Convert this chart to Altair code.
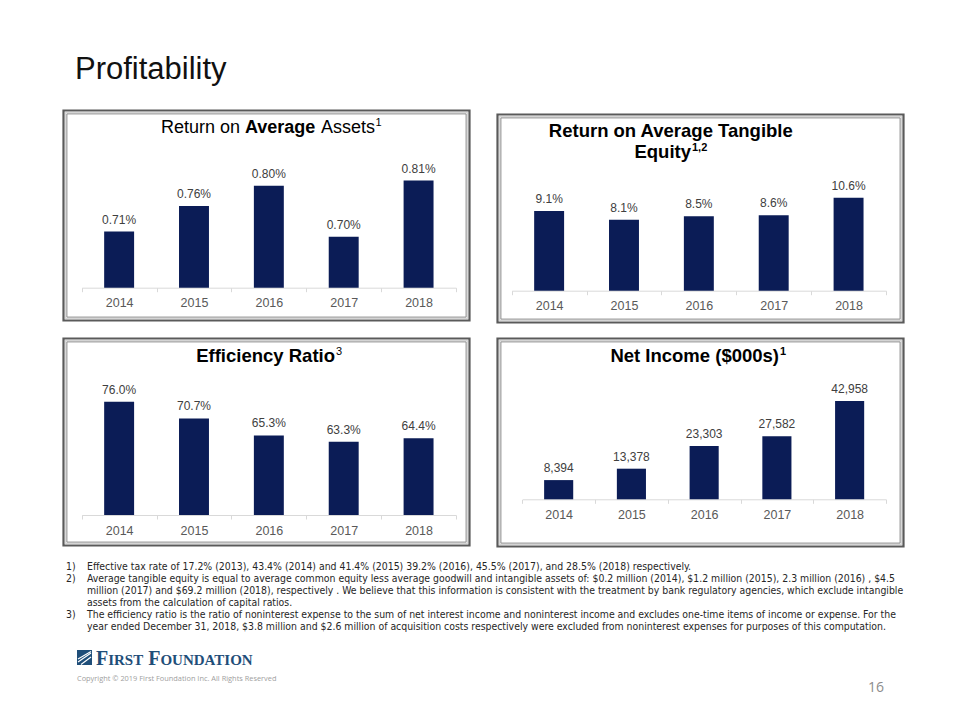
import altair as alt
import pandas as pd

# ---------------- data ----------------
years = ["2014", "2015", "2016", "2017", "2018"]
roaa = [0.71, 0.76, 0.80, 0.70, 0.81]
roate = [9.1, 8.1, 8.5, 8.6, 10.6]
efficiency = [76.0, 70.7, 65.3, 63.3, 64.4]
net_income = [8394, 13378, 23303, 27582, 42958]

footnote_nums = ["1)", "2)", "", "", "3)", ""]
footnote_lines = [
    "Effective tax rate of 17.2% (2013), 43.4% (2014) and 41.4% (2015) 39.2% (2016), 45.5% (2017), and 28.5% (2018) respectively.",
    "Average tangible equity is equal to average common equity less average goodwill and intangible assets of: $0.2 million (2014), $1.2 million (2015), 2.3 million (2016) , $4.5",
    "million  (2017) and $69.2 million (2018), respectively . We believe that this information is consistent with the treatment by bank regulatory agencies, which exclude intangible",
    "assets from the calculation of capital ratios.",
    "The efficiency ratio is the ratio of noninterest expense to the sum of net interest income and noninterest income and excludes one-time items of income or expense. For the",
    "year ended December 31, 2018, $3.8 million  and $2.6 million  of acquisition costs respectively were excluded from noninterest expenses for purposes of this computation.",
]

NAVY = "#0B1C56"
FONT = "Liberation Sans"
NARROW = "Liberation Sans Narrow, Arial Narrow, DejaVu Sans Condensed, sans-serif"
W, H = 960, 720
one = pd.DataFrame({"k": [0]})


def txt(s, x, y, size, weight="normal", color="#000000", align="left", font=FONT):
    return alt.Chart(one).mark_text(
        text=s, fontSize=size, fontWeight=weight, color=color, align=align,
        font=font, baseline="alphabetic"
    ).encode(x=alt.value(x), y=alt.value(y))


def frame(x0, y0, x1, y1):
    out = []
    for inset, col, sw in [(0, "#5a5a5a", 2.2), (2.2, "#d4d4d4", 1.2), (3.4, "#8c8c8c", 1)]:
        out.append(
            alt.Chart(one).mark_rect(fillOpacity=0, stroke=col, strokeWidth=sw).encode(
                x=alt.value(x0 + inset), x2=alt.value(x1 - inset),
                y=alt.value(y0 + inset), y2=alt.value(y1 - inset)
            )
        )
    return out


def panel(values, fmt, suffix, domain, xrange, baseline, px_per_unit):
    df = pd.DataFrame({"year": years, "v": values})
    top = baseline - (domain[1] - domain[0]) * px_per_unit
    xs = alt.Scale(domain=years, range=list(xrange), paddingInner=0, paddingOuter=0)
    ys = alt.Scale(domain=list(domain), range=[baseline, top], zero=False, nice=False)
    base = alt.Chart(df)
    bars = base.mark_bar(color=NAVY, width=alt.RelativeBandSize(0.4)).encode(
        x=alt.X(
            "year:N", scale=xs,
            axis=alt.Axis(
                orient="bottom", offset=baseline - H, title=None, grid=False,
                labelAngle=0, domainColor="#d9d9d9", tickColor="#d9d9d9",
                tickSize=4, tickBand="extent", labelColor="#595959",
                labelFont=FONT, labelFontSize=12.5, labelPadding=5,
            ),
        ),
        y=alt.Y("v:Q", scale=ys, axis=None),
        y2=alt.datum(domain[0]),
    )
    labels = base.transform_calculate(
        lab=f"format(datum.v, '{fmt}') + '{suffix}'"
    ).mark_text(
        font=FONT, fontSize=12, color="#404040", baseline="alphabetic", dy=-8
    ).encode(
        x=alt.X("year:N", scale=xs, axis=None),
        y=alt.Y("v:Q", scale=ys, axis=None),
        text="lab:N",
    )
    return [bars, labels]


layers = []

# frames
layers += frame(63.5, 110.5, 469.5, 320.5)
layers += frame(497.5, 114.5, 903.5, 322.5)
layers += frame(63.5, 338.5, 469.5, 545.5)
layers += frame(497.5, 338.5, 903.5, 546.5)

# panels
layers += panel(roaa, ".2f", "%", (0.6, 0.9), (81.7, 456), 287.7, 510)
layers += panel(roate, ".1f", "%", (0, 12), (511.7, 886), 290.7, 8.76)
layers += panel(efficiency, ".1f", "%", (40, 80), (81.7, 456), 515, 3.147)
layers += panel(net_income, ",d", "", (0, 50000), (522.3, 886), 499.3, 0.002288)

# page title
layers.append(txt("Profitability", 75, 78.5, 31, color="#111111"))

# panel titles
layers.append(txt("Return on ", 161, 133, 18))
layers.append(txt("Average", 245, 133, 18, weight="bold"))
layers.append(txt("Assets", 321, 133, 18))
layers.append(txt("1", 375.5, 126, 11))

layers.append(txt("Return on Average Tangible", 670.8, 136.6, 18.5, weight="bold", align="center"))
layers.append(txt("Equity", 691, 158, 18.5, weight="bold", align="right"))
layers.append(txt("1,2", 692, 151, 11, weight="bold"))

layers.append(txt("Efficiency Ratio", 335, 362, 18.5, weight="bold", align="right"))
layers.append(txt("3", 336, 355, 11))

layers.append(txt("Net Income ($000s)", 779, 362, 18.5, weight="bold", align="right"))
layers.append(txt("1", 780, 355, 11, weight="bold"))

# footnotes
for i, (num, line) in enumerate(zip(footnote_nums, footnote_lines)):
    y = 569.5 + 12 * i
    if num:
        layers.append(txt(num, 66, y, 10.4, color="#262626", font=NARROW))
    layers.append(txt(line, 87, y, 10.4, color="#262626", font=NARROW))

# logo
LOGO = "#1F4E79"
layers.append(
    alt.Chart(one).mark_rect(color=LOGO).encode(
        x=alt.value(77), x2=alt.value(92), y=alt.value(650), y2=alt.value(665)
    )
)
for (ax, ay, bx, by) in [(78, 662, 91, 653), (78, 659, 91, 651.5), (81, 664.5, 91, 657)]:
    layers.append(
        alt.Chart(one).mark_rule(color="white", strokeWidth=1.2).encode(
            x=alt.value(ax), y=alt.value(ay), x2=alt.value(bx), y2=alt.value(by)
        )
    )
SERIF = "Liberation Serif"
layers.append(txt("F", 96, 665, 20, weight="bold", color=LOGO, font=SERIF))
layers.append(txt("IRST", 108.2, 665, 15, weight="bold", color=LOGO, font=SERIF))
layers.append(txt("F", 148.2, 665, 20, weight="bold", color=LOGO, font=SERIF))
layers.append(txt("OUNDATION", 160.4, 665, 15, weight="bold", color=LOGO, font=SERIF))
layers.append(txt("Copyright \u00a9 2019 First Foundation Inc. All Rights Reserved", 77, 681, 7.4,
                  color="#a0a0a0", font="Open Sans"))

# page number
layers.append(txt("16", 876, 692, 14, color="#8c8c8c", align="center", font="Open Sans"))

chart = alt.layer(*layers).resolve_scale(
    x="independent", y="independent"
).properties(
    width=W, height=H, autosize=alt.AutoSizeParams(type="none"), padding=0,
    background="white",
).configure_view(stroke=None)

chart.save("out.html", embed_options={"renderer": "svg", "actions": False})
